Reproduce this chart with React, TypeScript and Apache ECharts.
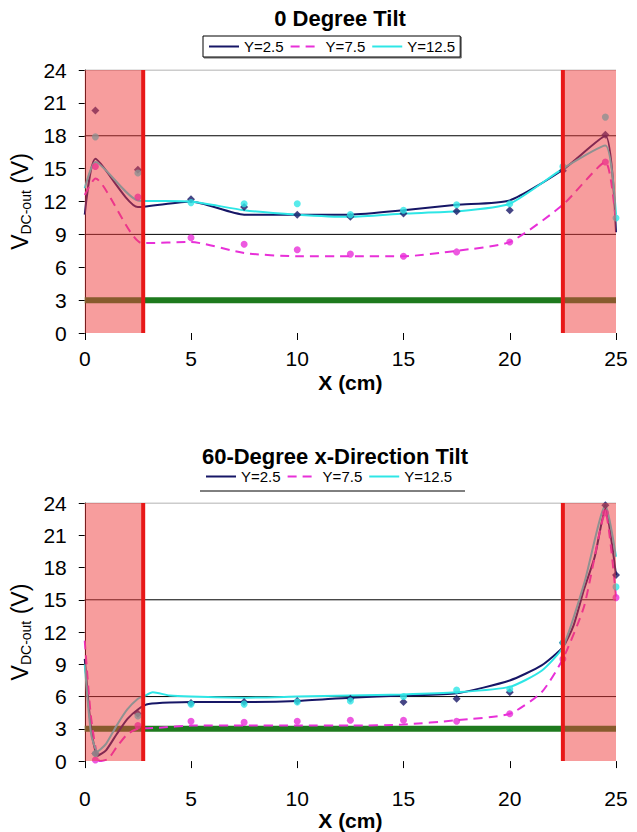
import React, { useEffect, useRef } from "react";
import * as echarts from "echarts";

const SERIES_NAMES = ["Y=2.5", "Y=7.5", "Y=12.5"];
const TITLES = ["0 Degree Tilt", "60-Degree x-Direction Tilt"];
const Y_MAX = 24;
const Y_STEP = 3;
const X_MAX = 25;
const X_STEP = 5;
const GREEN_LEVEL = 3;
const SHADE_LEFT = [0, 2.75];
const SHADE_RIGHT = [22.5, 25];
const TOP_GRIDLINES = [18, 9];
const BOTTOM_GRIDLINES = [15, 6];

// ---- 0 Degree Tilt: curves ----
const top25Line = [[0, 10.8], [0.5, 15.9], [2.5, 11.5], [5, 12.0], [7.5, 10.8], [10, 10.8], [12.5, 10.8], [15, 11.2], [17.5, 11.7], [20, 12.1], [22.5, 14.9], [24.5, 18.0], [25, 9.2]];
const top75Line = [[0, 12.6], [0.5, 14.1], [2.7, 8.2], [5, 8.3], [7.5, 7.3], [10, 7.0], [12.5, 7.0], [15, 7.0], [17.5, 7.5], [20, 8.3], [22.5, 11.7], [24.5, 15.6], [25, 10.0]];
const top125Line = [[0, 13.2], [0.5, 15.6], [2.5, 12.1], [5, 12.0], [7.5, 11.2], [10, 10.8], [12.5, 10.6], [15, 10.9], [17.5, 11.1], [20, 11.8], [22.5, 15.0], [24.5, 17.1], [25, 10.8]];
// ---- 0 Degree Tilt: measured points ----
const top25Pts = [[0.5, 20.3], [2.5, 14.9], [5, 12.2], [7.5, 11.5], [10, 10.8], [12.5, 10.6], [15, 10.9], [17.5, 11.1], [20, 11.2], [22.5, 14.8], [24.5, 18.1]];
const top75Pts = [[0.5, 15.2], [2.5, 12.4], [5, 8.7], [7.5, 8.1], [10, 7.6], [12.5, 7.2], [15, 7.0], [17.5, 7.4], [20, 8.3], [24.5, 15.6]];
const top125Pts = [[0.5, 17.9], [2.5, 14.6], [5, 11.9], [7.5, 11.8], [10, 11.8], [12.5, 10.8], [15, 11.2], [17.5, 11.7], [20, 11.8], [22.5, 15.2], [24.5, 19.7], [25, 10.5]];

// ---- 60-Degree x-Direction Tilt: curves ----
const bot25Line = [[0, 9.5], [0.3, 3.0], [0.6, 0.5], [1, 1.0], [1.5, 2.5], [2, 3.9], [2.5, 4.8], [3, 5.3], [5, 5.5], [7.5, 5.5], [10, 5.6], [12.5, 5.9], [15, 6.1], [17.5, 6.3], [20, 7.5], [21.5, 8.9], [22.5, 10.6], [23, 12.6], [23.5, 16.0], [24, 19.0], [24.5, 23.5], [25, 17.3]];
const bot75Line = [[0, 11.2], [0.3, 4.0], [0.7, 0.0], [1.1, 0.2], [1.5, 1.3], [2, 2.5], [2.5, 3.0], [3.5, 3.1], [5, 3.3], [7.5, 3.3], [10, 3.3], [12.5, 3.3], [15, 3.4], [17.5, 3.8], [20, 4.4], [21.5, 6.4], [22.5, 9.5], [23.5, 14.4], [24.5, 23.1], [25, 15.3]];
const bot125Line = [[0, 9.0], [0.3, 2.5], [0.6, 0.9], [1, 1.6], [1.5, 3.3], [2, 4.8], [2.5, 5.8], [2.75, 6.0], [3.2, 6.4], [4, 6.1], [5, 6.0], [7.5, 5.9], [10, 6.0], [12.5, 6.1], [15, 6.2], [17.5, 6.4], [20, 6.9], [21.5, 8.4], [22.5, 10.6], [23.5, 16.5], [24.5, 23.8], [25, 19.0]];
// ---- 60-Degree x-Direction Tilt: measured points ----
const bot25Pts = [[0.5, 0.7], [2.5, 4.4], [5, 5.4], [7.5, 5.5], [10, 5.6], [12.5, 5.8], [15, 5.5], [17.5, 5.8], [20, 6.4], [22.5, 11.0], [24.5, 23.8], [25, 17.3]];
const bot75Pts = [[0.5, 0.1], [2.5, 3.3], [5, 3.7], [7.5, 3.6], [10, 3.7], [12.5, 3.8], [15, 3.8], [17.5, 3.7], [20, 4.4], [22.5, 9.5], [24.5, 23.1], [25, 15.2]];
const bot125Pts = [[0.5, 0.7], [2.5, 4.2], [5, 5.3], [7.5, 5.3], [10, 5.5], [12.5, 5.6], [15, 6.0], [17.5, 6.6], [20, 6.7], [22.5, 11.0], [24.5, 24.1], [25, 16.2]];

const FONT = "Liberation Sans, Arial, sans-serif";
const NAVY = "#161666";
const MAGENTA = "#e830d8";
const CYAN = "#2ee6e6";
const GREEN = "#1e7a1e";
const RED = "#e81818";
const SHADE = "rgba(240,60,60,0.5)";

function buildSeries(i: number, lines: number[][][], pts: number[][][], gridVals: number[]) {
  const ax = { xAxisIndex: i, yAxisIndex: i };
  const s: any[] = [];
  const hline = (y: number, color: string, width: number, z: number) => ({
    type: "line", ...ax, data: [[0, y], [X_MAX, y]], symbol: "none", silent: true,
    lineStyle: { color, width }, z,
  });
  gridVals.forEach((g) => s.push(hline(g, "#000", 1, 1)));
  s.push(hline(Y_MAX, "#999", 1, 1));
  s.push(hline(GREEN_LEVEL, GREEN, 6, 1));
  const colors = [NAVY, MAGENTA, CYAN];
  const types: any[] = ["solid", [9, 6], "solid"];
  lines.forEach((d, k) => {
    s.push({
      type: "line", name: SERIES_NAMES[k], ...ax, data: d, smooth: 0.2, symbol: "none",
      lineStyle: { color: colors[k], width: 2, type: types[k] }, itemStyle: { color: colors[k] }, z: 3,
    });
  });
  const syms = ["diamond", "circle", "circle"];
  pts.forEach((d, k) => {
    s.push({
      type: "scatter", name: SERIES_NAMES[k] + " data", ...ax, data: d, symbol: syms[k],
      symbolSize: k === 0 ? 8 : 7, itemStyle: { color: colors[k] }, z: 4,
    });
  });
  [SHADE_LEFT, SHADE_RIGHT].forEach((r) => {
    s.push({
      type: "line", ...ax, data: [[r[0], Y_MAX], [r[1], Y_MAX]], symbol: "none", silent: true,
      lineStyle: { width: 0, opacity: 0 }, areaStyle: { color: SHADE, origin: "start", opacity: 1 }, z: 8,
    });
  });
  [SHADE_LEFT[1], SHADE_RIGHT[0]].forEach((x) => {
    s.push({
      type: "line", ...ax, data: [[x, 0], [x, Y_MAX]], symbol: "none", silent: true,
      lineStyle: { color: RED, width: 4 }, z: 9,
    });
  });
  return s;
}

export default function App() {
  const ref = useRef<HTMLDivElement>(null);
  useEffect(() => {
    if (!ref.current) return;
    const chart = echarts.init(ref.current, undefined, { renderer: "svg" });
    const grids = [
      { left: 84, top: 70, width: 532, height: 263 },
      { left: 84, top: 503, width: 532, height: 260 },
    ];
    const labelMargins = [15, 27];
    const nameGaps = [39, 47];
    const xAxes = grids.map((_, i) => ({
      type: "value", gridIndex: i, min: 0, max: X_MAX, interval: X_STEP,
      axisLine: { show: false },
      axisTick: { show: true, length: 7, lineStyle: { color: "#000" } },
      splitLine: { show: false },
      axisLabel: { fontSize: 21, color: "#000", fontFamily: FONT, margin: labelMargins[i] },
      name: "X (cm)", nameLocation: "middle", nameGap: nameGaps[i],
      nameTextStyle: { fontSize: 21, fontWeight: "bold", color: "#000", fontFamily: FONT },
    }));
    const yAxes = grids.map((_, i) => ({
      type: "value", gridIndex: i, min: 0, max: Y_MAX, interval: Y_STEP,
      axisLine: { show: true, lineStyle: { color: "#000", width: 1 } },
      axisTick: { show: true, length: 6, lineStyle: { color: "#000" } },
      splitLine: { show: false },
      axisLabel: { fontSize: 21, color: "#000", fontFamily: FONT, margin: 18 },
      name: "{v|V}{s|DC-out}{v| (V)}", nameLocation: "middle", nameGap: 44, nameRotate: 90,
      nameTextStyle: {
        color: "#000", fontFamily: FONT,
        rich: {
          v: { fontSize: 23, fontFamily: FONT, color: "#000", lineHeight: 26 },
          s: { fontSize: 14, fontFamily: FONT, color: "#000", lineHeight: 26, verticalAlign: "bottom", padding: [8, 0, 0, 0] },
        },
      },
    }));
    const series = [
      ...buildSeries(0, [top25Line, top75Line, top125Line], [top25Pts, top75Pts, top125Pts], TOP_GRIDLINES),
      ...buildSeries(1, [bot25Line, bot75Line, bot125Line], [bot25Pts, bot75Pts, bot125Pts], BOTTOM_GRIDLINES),
    ];
    const legendBase = {
      orient: "horizontal", itemWidth: 30, itemHeight: 10, itemGap: 6,
      textStyle: { fontSize: 15, color: "#000", fontFamily: FONT },
      itemStyle: { opacity: 0 },
      data: SERIES_NAMES, selectedMode: false,
    };
    chart.setOption({
      animation: false,
      backgroundColor: "#fff",
      title: [
        { text: TITLES[0], left: 335, top: 2, textAlign: "center", textStyle: { fontSize: 22, fontWeight: "bold", color: "#000", fontFamily: FONT } },
        { text: TITLES[1], left: 330, top: 440, textAlign: "center", textStyle: { fontSize: 22, fontWeight: "bold", color: "#000", fontFamily: FONT } },
      ],
      legend: [
        { ...legendBase, left: 203, top: 36, padding: [3, 5, 3, 5], borderColor: "#000", borderWidth: 1, backgroundColor: "#fff", shadowColor: "#666", shadowOffsetX: 1, shadowOffsetY: 1, shadowBlur: 0 },
        { ...legendBase, left: 205, top: 469, padding: [0, 0, 0, 0] },
      ],
      graphic: [
        { type: "line", shape: { x1: 200, y1: 491, x2: 465, y2: 491 }, style: { stroke: "#000", lineWidth: 1 } },
      ],
      grid: grids,
      xAxis: xAxes,
      yAxis: yAxes,
      series,
    });
    return () => chart.dispose();
  }, []);
  return <div ref={ref} style={{ position: "absolute", left: 0, top: 0, width: 637, height: 832 }} />;
}
